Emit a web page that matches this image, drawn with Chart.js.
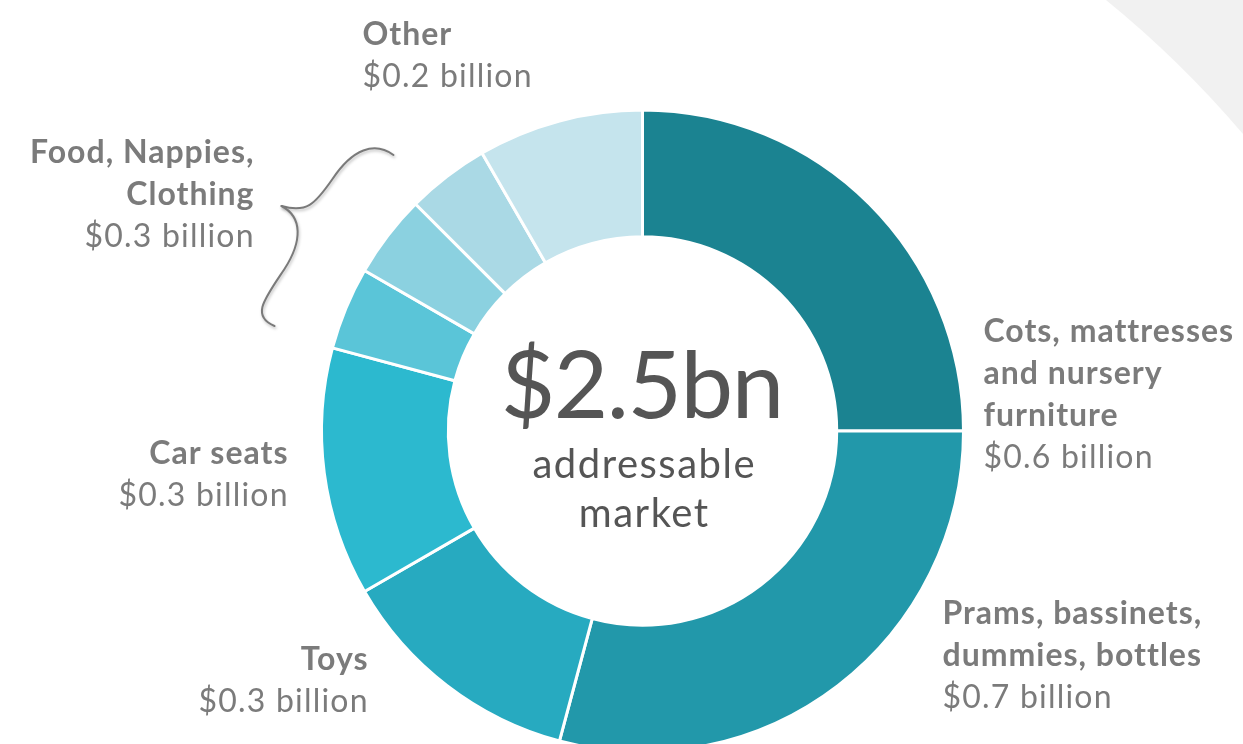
<!DOCTYPE html>
<html>
<head>
<meta charset="utf-8">
<title>Addressable market</title>
<script src="https://cdn.jsdelivr.net/npm/chart.js@4.4.1/dist/chart.umd.min.js"></script>
<style>
  html, body { margin: 0; padding: 0; background: #ffffff; overflow: hidden; }
  #wrap { position: relative; width: 1243px; height: 744px; overflow: hidden; }
  canvas { display: block; }
</style>
</head>
<body>
<div id="wrap"><canvas id="market" width="1243" height="790"></canvas></div>
<script>
// Market segments, clockwise from 12 o'clock
const categories = [
  'Cots, mattresses and nursery furniture',
  'Prams, bassinets, dummies, bottles',
  'Toys',
  'Car seats',
  'Clothing',
  'Nappies',
  'Food',
  'Other'
];
const values = [0.6, 0.7, 0.3, 0.3, 0.1, 0.1, 0.1, 0.2];   // $ billion
const segmentColors = ['#1b8391', '#2298aa', '#27aac0', '#2cb9cf', '#5ac5d8', '#8bd1e0', '#aad9e5', '#c5e4ed'];

// Callout labels (Food, Nappies and Clothing share one label)
const calloutTitles = ['Cots, mattresses and nursery furniture', 'Prams, bassinets, dummies, bottles', 'Toys', 'Car seats', 'Food, Nappies, Clothing', 'Other'];
const calloutValues = [0.6, 0.7, 0.3, 0.3, 0.3, 0.2];

const totalText = '$2.5bn';
const totalSubtitle = ['addressable', 'market'];

const FONT = 'Lato, "Open Sans", sans-serif';
const TEXT_GREY = '#7b7b7b';

// Where each callout sits relative to the ring centre, and how its title wraps (words per line)
const calloutLayout = [
  { dx: 341, dy: -89, align: 'left', words: [2, 2, 1] },
  { dx: 300, dy: 193, align: 'left', words: [2, 2] },
  { dx: -275, dy: 239, align: 'right', words: [1] },
  { dx: -355, dy: 33, align: 'right', words: [2] },
  { dx: -389, dy: -268, align: 'right', words: [2, 1] },
  { dx: -280, dy: -386, align: 'left', words: [1] }
];
const LINE_H = 42;

function splitWords(text, counts) {
  const w = text.split(' ');
  const out = [];
  let i = 0;
  counts.forEach(n => { out.push(w.slice(i, i + n).join(' ')); i += n; });
  return out;
}

// draws spaced text; right-aligned runs are shifted so the last glyph ends on x
function spacedText(ctx, str, x, y, spacing, align) {
  ctx.letterSpacing = spacing + 'px';
  ctx.textAlign = align;
  const shift = align === 'right' ? spacing : (align === 'center' ? spacing / 2 : 0);
  ctx.fillText(str, x + shift, y);
  ctx.letterSpacing = '0px';
}

const backdrop = {
  id: 'backdrop',
  beforeDraw(chart) {
    const ctx = chart.ctx;
    ctx.save();
    ctx.fillStyle = '#ffffff';
    ctx.fillRect(0, 0, chart.width, chart.height);
    // pale corner panel, top right
    ctx.fillStyle = '#f1f1f1';
    ctx.beginPath();
    ctx.moveTo(1106, 0);
    ctx.quadraticCurveTo(1180, 60, 1243, 134);
    ctx.lineTo(1243, 0);
    ctx.closePath();
    ctx.fill();
    ctx.restore();
  }
};

const annotations = {
  id: 'annotations',
  afterDraw(chart) {
    const ctx = chart.ctx;
    const arc = chart.getDatasetMeta(0).data[0];
    const cx = arc.x, cy = arc.y;
    ctx.save();

    // centre text
    ctx.textBaseline = 'alphabetic';
    ctx.fillStyle = '#555555';
    ctx.font = '400 94px ' + FONT;
    spacedText(ctx, totalText, cx, cy - 13, -1.5, 'center');
    ctx.font = '400 40px ' + FONT;
    spacedText(ctx, totalSubtitle[0], cx + 1, cy + 47, 1.5, 'center');
    spacedText(ctx, totalSubtitle[1], cx + 1, cy + 96, 1.5, 'center');

    // callouts
    calloutTitles.forEach((title, i) => {
      const L = calloutLayout[i];
      const lines = splitWords(title, L.words);
      ctx.fillStyle = TEXT_GREY;
      let y = cy + L.dy;
      ctx.font = '700 32px ' + FONT;
      lines.forEach(line => { spacedText(ctx, line, cx + L.dx, y, 1, L.align); y += LINE_H; });
      ctx.font = '400 32px ' + FONT;
      spacedText(ctx, '$' + calloutValues[i].toFixed(1) + ' billion', cx + L.dx, y, 1.2, L.align);
    });

    // brace grouping the three small segments
    ctx.strokeStyle = '#7a7a7a';
    ctx.lineWidth = 2;
    ctx.lineCap = 'round';
    ctx.shadowColor = 'rgba(0,0,0,0.25)';
    ctx.shadowBlur = 3;
    ctx.shadowOffsetX = 1;
    ctx.shadowOffsetY = 2;
    ctx.beginPath();
    ctx.moveTo(cx - 249, cy - 276);
    ctx.bezierCurveTo(cx - 268, cy - 290, cx - 290, cy - 282, cx - 310, cy - 252);
    ctx.bezierCurveTo(cx - 328, cy - 226, cx - 336, cy - 218, cx - 361, cy - 225);
    ctx.stroke();
    ctx.beginPath();
    ctx.moveTo(cx - 361, cy - 225);
    ctx.bezierCurveTo(cx - 340, cy - 214, cx - 340, cy - 190, cx - 358, cy - 162);
    ctx.bezierCurveTo(cx - 378, cy - 132, cx - 392, cy - 115, cx - 368, cy - 105);
    ctx.stroke();
    ctx.restore();
  }
};

new Chart(document.getElementById('market'), {
  type: 'doughnut',
  data: {
    labels: categories,
    datasets: [{
      data: values,
      backgroundColor: segmentColors,
      borderColor: '#ffffff',
      borderWidth: 3,
      hoverOffset: 0
    }]
  },
  options: {
    responsive: false,
    animation: false,
    cutout: '60.5%',
    rotation: 0,
    layout: { padding: { left: 320, right: 278, top: 108, bottom: 36 } },
    plugins: {
      legend: { display: false },
      tooltip: { enabled: false },
      title: { display: false }
    }
  },
  plugins: [backdrop, annotations]
});
</script>
</body>
</html>
